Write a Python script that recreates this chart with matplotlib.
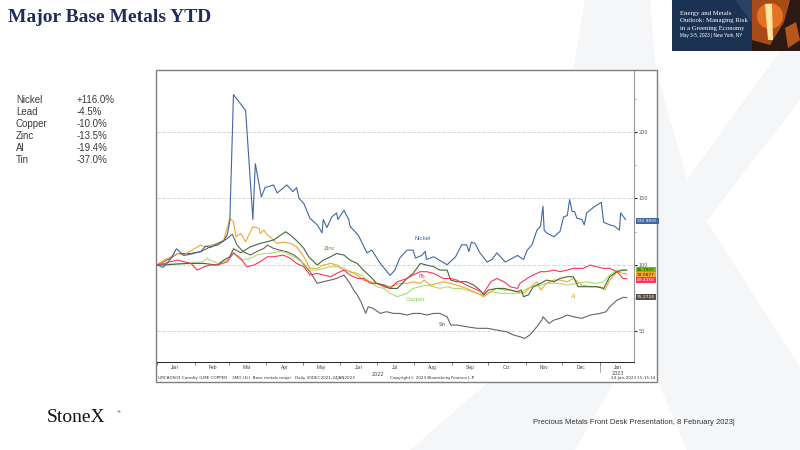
"""
Major Base Metals YTD - Bloomberg style index chart on a StoneX slide.
"""

import numpy as np
import pandas as pd
import matplotlib

matplotlib.use("Agg")
import matplotlib.pyplot as plt
from matplotlib.patches import Rectangle, Polygon, Ellipse

W, H = 800, 450

# ---- data: days since 1 Jan 2022, index level (start = 100) ----
nickel_days = [0, 5, 11, 16, 22, 28, 36, 40, 44, 50, 55, 58, 60, 63, 73, 79, 81, 86, 89, 96,
               99, 107, 112, 115, 117, 121, 126, 132, 136, 137, 140, 144, 148, 149, 154, 158,
               159, 166, 173, 177, 184, 192, 196, 200, 206, 211, 213, 218, 221, 222, 228, 239,
               246, 251, 255, 257, 259, 262, 266, 272, 276, 280, 283, 287, 291, 297, 302, 305,
               309, 313, 316, 318, 319, 321, 327, 332, 335, 338, 340, 342, 344, 346, 350, 352,
               354, 358, 361, 366, 368, 373, 377, 381, 382, 386]
nickel_vals = [100, 98, 104, 112, 107, 108, 110, 114, 113, 116, 118, 123, 133, 228, 216, 134, 176, 151, 158, 160,
               154, 160, 155, 158, 150, 146, 135, 130, 124, 134, 128, 136, 139, 134, 141, 134,
               129, 122, 109, 111, 101, 92, 96, 105, 111, 111, 105, 107, 110, 104, 106, 100,
               106, 115, 115, 110, 117, 116, 109, 102, 104, 109, 106, 102, 104, 107, 104, 111,
               115, 126, 129, 144, 126, 124, 121, 125, 136, 137, 149, 140, 140, 135, 134, 130,
               139, 142, 144, 147, 132, 130, 129, 126, 139, 134]

al_days = [0, 6, 17, 22, 36, 39, 50, 55, 60, 63, 65, 69, 73, 77, 79, 84, 85, 88, 91, 93,
           99, 104, 110, 115, 121, 126, 132, 137, 143, 148, 154, 159, 165, 170, 176, 181, 187, 192, 200, 206,
           211, 217, 220, 225, 231, 236, 242, 247, 255, 264, 269, 275, 280, 286, 291, 297, 302, 308, 313, 316,
           321, 327, 332, 338, 343, 350, 357, 365, 369, 373, 379, 384, 387]
al_vals = [100, 103.5, 108.5, 107.3, 114.8, 113.6, 116, 118.6, 134.9, 132.3, 121, 123.6, 117.3, 124.8, 128.6, 127.4, 123.6, 126, 122.3, 121,
           116, 117, 116, 113.6, 106, 97.3, 97.3, 99.8, 101, 99.8, 96, 94.8, 92.3, 88.5, 87.2, 86, 84.7, 83.5, 86, 86,
           87.2, 86, 88.5, 84.7, 86, 87.2, 86, 84.7, 82.2, 78.5, 76, 79.7, 82.2, 81, 81, 79.7, 78.5, 83.5, 87.2, 81,
           86, 88.5, 88.5, 87.2, 89.7, 84.7, 83.5, 83.5, 81, 88.5, 94.8, 93.5, 93]

zinc_days = [0, 6, 16, 27, 38, 50, 55, 60, 63, 69, 77, 85, 96, 106, 110, 116, 121, 125, 132, 137,
             143, 148, 154, 159, 165, 170, 176, 181, 187, 192, 198, 206, 211, 217, 222, 228, 233, 239, 242, 247,
             255, 261, 266, 269, 273, 280, 286, 291, 297, 300, 302, 306, 310, 316, 321, 327, 332, 338, 343, 347,
             354, 362, 368, 373, 379, 384, 387]
zinc_vals = [100, 99.8, 100.5, 101, 101, 99.8, 103.5, 106, 112, 109, 113.5, 116, 118.6, 124.8, 122.3, 117.3, 112.3, 106, 99.8, 103.5,
             106, 108.5, 107.3, 103.5, 101, 96, 91, 86, 84.7, 82.2, 82.2, 89.7, 93.5, 101, 99.8, 98.5, 96, 96, 88.5, 87.2,
             87.2, 84.7, 81, 77.3, 81, 82.2, 82.2, 81, 79.7, 81, 76, 77.3, 83.5, 86, 88.5, 87.2, 89.7, 91, 91, 83.5,
             83.5, 83.5, 82.2, 91, 94.8, 96, 96]

tin_days = [0, 11, 17, 22, 28, 36, 44, 50, 58, 62, 66, 71, 77, 82, 88, 91, 96, 101, 107, 113,
            118, 126, 132, 137, 143, 148, 154, 159, 162, 165, 168, 172, 174, 178, 184, 189, 195, 200, 206, 211,
            217, 222, 228, 233, 239, 242, 247, 255, 264, 272, 280, 288, 294, 299, 303, 307, 313, 317, 318, 323,
            327, 332, 338, 343, 350, 357, 365, 370, 373, 379, 384, 387]
tin_vals = [100, 104.8, 108.5, 108.5, 108.5, 109.8, 113.6, 114.8, 119.8, 123, 114.8, 109.8, 107.3, 109.8, 112.3, 114.8, 112.3, 111, 109.8, 107.3,
            103.5, 94.8, 86, 87.2, 88.5, 89.7, 92.3, 86, 81, 77.3, 72.2, 63.4, 68.4, 67.2, 63.4, 64.7, 63.4, 63.4, 62.2, 63.4,
            63.4, 62.2, 63.4, 63.4, 60.9, 54.7, 54.7, 53.4, 52.2, 52.2, 50.9, 49.6, 47.1, 45.9, 44.6, 47.1, 53.4, 58.4, 60.9, 55.9,
            58.4, 59.7, 62.2, 60.9, 59.7, 62.2, 63.4, 64.7, 68.4, 73.4, 75.5, 75.3]

lead_days = [0, 6, 11, 17, 22, 28, 33, 39, 44, 50, 58, 63, 69, 74, 80, 85, 91, 96, 104, 110,
             115, 121, 126, 132, 137, 143, 148, 154, 159, 165, 170, 176, 181, 187, 192, 198, 206, 211, 217, 222,
             228, 236, 242, 247, 255, 264, 269, 275, 280, 286, 291, 297, 299, 305, 310, 316, 321, 327, 332, 338,
             343, 351, 357, 362, 368, 373, 379, 384, 387]
lead_vals = [100, 101, 102.3, 103.5, 102.3, 101, 96, 98.5, 99.8, 99.8, 102.3, 109, 104.8, 98.5, 99.8, 102.3, 106, 106, 107.3, 104.8,
             101, 98.5, 92.3, 93.5, 92.3, 91, 93.5, 96, 92.3, 89.7, 89.7, 86, 86, 83.5, 82.2, 87.2, 89.7, 92.3, 94.8, 94.8,
             93.5, 89.7, 89.7, 88.5, 84.7, 81, 78.5, 87.2, 89.7, 87.2, 83.5, 82.2, 86, 89.7, 92.3, 94.8, 94.8, 96, 94.8, 96,
             97.3, 97.3, 99.8, 98.5, 97.3, 97.3, 94.8, 89.7, 89.5]

copper_days = [0, 22, 38, 41, 50, 58, 63, 69, 77, 82, 88, 93, 99, 104, 110, 115, 121, 126, 132, 137,
               143, 148, 154, 159, 165, 170, 176, 181, 187, 192, 198, 206, 211, 217, 222, 228, 233, 239, 244, 250,
               255, 264, 269, 275, 283, 291, 299, 305, 310, 316, 321, 327, 332, 338, 346, 354, 362, 368, 373, 379,
               384, 387]
copper_vals = [100, 101, 102.3, 104.8, 101, 103.5, 108.5, 103.5, 104.8, 107.3, 108.5, 108.5, 109.8, 109.8, 107.3, 104.8, 101, 96, 96, 97.3,
               98.5, 98.5, 97.3, 94.8, 93.5, 91, 87.2, 83.5, 82.2, 78.5, 76, 78.5, 82.2, 83.5, 84.7, 83.5, 82.2, 83.5, 82.2, 82.2,
               81, 78.5, 77.3, 79.7, 78.5, 78.5, 78.5, 82.2, 83.5, 84.7, 86, 86, 86, 84.7, 86, 87.2, 86, 87.2, 92.3, 96,
               96, 96]

ytd_names = ["Nickel", "Lead", "Copper", "Zinc", "Al", "Tin"]
ytd_changes = ["+116.0%", "-4.5%", "-10.0%", "-13.5%", "-19.4%", "-37.0%"]

month_names = ["Jan", "Feb", "Mar", "Apr", "May", "Jun", "Jul", "Aug", "Sep", "Oct", "Nov", "Dec", "Jan"]
y_ticks = [50, 100, 150, 200]

end_labels = ["132.9895", "95.7907", "93.0877", "89.4356", "75.2724"]

C_NICKEL = "#3f67a3"
C_ZINC = "#3e6b3a"
C_TIN = "#6e625a"
C_LEAD = "#ff3355"
C_COPPER = "#a9de6e"
C_AL = "#f5a62a"


def fx(x):
    return x / W


def fy(y):
    return 1 - y / H


def fig_poly(points, color, z=0, alpha=1.0):
    pts = [(fx(x), fy(y)) for x, y in points]
    fig.patches.append(Polygon(pts, closed=True, transform=fig.transFigure,
                               fc=color, ec="none", zorder=z, alpha=alpha))


fig = plt.figure(figsize=(8, 4.5), dpi=100)
fig.patch.set_facecolor("white")

# watermark X in the background
wm = "#f5f6f8"
fig_poly([(585, 0), (650, 0), (656, 70), (693, 200), (800, 367), (800, 450),
          (687, 450), (560, 150)], wm)
fig_poly([(780, 51), (800, 51), (800, 100), (706, 222), (575, 450), (410, 450),
          (560, 320), (688, 178)], wm)

# banner top right
fig.patches.append(Rectangle((fx(672), fy(51)), (800 - 672) / W, 51 / H,
                             transform=fig.transFigure, fc="#1c3253", ec="none", zorder=1))
fig_poly([(735, 0), (752, 0), (790, 51), (773, 51)], "#2a4265", z=1)
fig_poly([(752, 0), (800, 0), (800, 51), (752, 51)], "#2b1a14", z=1)
fig_poly([(752, 0), (790, 0), (784, 22), (770, 45), (752, 40)], "#b8501a", z=1, alpha=0.9)
fig.patches.append(Ellipse((fx(770), fy(16)), 26 / W, 26 / H,
                           transform=fig.transFigure, fc="#f07a22", ec="none", zorder=1, alpha=0.85))
fig_poly([(765, 4), (772, 4), (773, 40), (768, 40)], "#ffe6a0", z=1)
fig_poly([(785, 28), (796, 22), (800, 40), (788, 48)], "#d9661c", z=1, alpha=0.8)
banner_lines = ["Energy and Metals", "Outlook: Managing Risk", "in a Greening Economy"]
for i, line in enumerate(banner_lines):
    fig.text(fx(680), fy(13 + 7.6 * i), line, color="white", fontsize=4.9,
             family="Liberation Serif", va="center", ha="left", zorder=2)
fig.text(fx(680), fy(36), "May 3-5, 2023 | New York, NY", color="white", fontsize=3.3,
         family="Liberation Sans", va="center", ha="left", zorder=2)

# title
fig.text(fx(8), fy(17), "Major Base Metals YTD", fontsize=14, fontweight="bold",
         family="Liberation Serif", color="#1f2c5c", va="center", ha="left")

# YTD table
for i, (name, chg) in enumerate(zip(ytd_names, ytd_changes)):
    y = 100 + 12 * i
    fig.text(fx(16), fy(y), name, fontsize=7, family="Liberation Sans", color="#3a3a3a", va="center")
    fig.text(fx(77), fy(y), chg, fontsize=7, family="Liberation Sans", color="#3a3a3a", va="center")

# chart frame
fig.patches.append(Rectangle((fx(156), fy(382)), (657 - 156) / W, (382 - 70) / H,
                             transform=fig.transFigure, fc="white", ec="#7f7f7f", lw=1.0, zorder=3))

ax = fig.add_axes([fx(157), fy(361.7), (634 - 157) / W, (361.7 - 71) / H], zorder=4)
ax.set_facecolor("none")

series = [
    (tin_days, tin_vals, C_TIN),
    (copper_days, copper_vals, C_COPPER),
    (al_days, al_vals, C_AL),
    (zinc_days, zinc_vals, C_ZINC),
    (lead_days, lead_vals, C_LEAD),
    (nickel_days, nickel_vals, C_NICKEL),
]
for days, vals, col in series:
    ax.plot(days, vals, color=col, lw=0.8)

ax.set_xlim(0, 393)
ax.set_ylim(27.1, 245.7)

for side in ["top", "left"]:
    ax.spines[side].set_visible(False)
ax.spines["right"].set_color("#9a9a9a")
ax.spines["right"].set_linewidth(0.8)
ax.spines["bottom"].set_color("#222222")
ax.spines["bottom"].set_linewidth(0.7)

ax.yaxis.tick_right()
ax.set_yticks(y_ticks)
ax.set_yticks([75, 125, 175, 225], minor=True)
ax.set_yticklabels([str(v) for v in y_ticks])
ax.tick_params(axis="y", which="major", length=2, width=0.8, pad=1, labelsize=3.5,
               labelcolor="#555555", color="#222222")
ax.tick_params(axis="y", which="minor", length=1.2, width=0.5, color="#888888")
ax.grid(axis="y", which="major", ls=(0, (4, 2)), color="#d0d0d0", lw=0.6)

# month ticks and labels
base = pd.Timestamp("2022-01-01")
month_starts = pd.date_range("2022-01-01", "2023-01-01", freq="MS")
start_days = [(d - base).days for d in month_starts]
ax.set_xticks(start_days)
ax.set_xticklabels([])
ax.tick_params(axis="x", which="major", length=2, width=0.5, color="#444444", direction="out")
xt = ax.get_xaxis_transform()
for sd, name in zip(start_days, month_names):
    ax.text(sd + 15, -0.012, name, transform=xt, ha="center", va="top",
            fontsize=3.5, color="#444444", family="Liberation Sans")
ax.text(182, -0.036, "2022", transform=xt, ha="center", va="top", fontsize=3.5, color="#444444")
ax.text(start_days[-1] + 15, -0.032, "2023", transform=xt, ha="center", va="top",
        fontsize=3.5, color="#444444")
ax.plot([start_days[-1], start_days[-1]], [-0.008, -0.036], transform=xt, clip_on=False,
        color="#888888", lw=0.5)

# series names inside the chart
inner = [("Nickel", 423, 239, C_NICKEL), ("Zinc", 330, 249, "#6e7a3a"), ("Pb", 422, 277, C_LEAD),
         ("Copper", 416, 300, "#8cc850"), ("Al", 574, 296, C_AL), ("Sn", 442, 324, "#555555")]
for txt, x, y, col in inner:
    fig.text(fx(x), fy(y), txt, fontsize=4, color=col, ha="center", va="center", zorder=6)

# last value tags
tag_y = [221, 270.3, 275, 279.7, 297.3]
tag_fc = [C_NICKEL, "#77c20c", C_AL, C_LEAD, "#5a4d45"]
tag_tc = ["white", "#1a3300", "#3a2200", "white", "white"]
for txt, y, fc, tc in zip(end_labels, tag_y, tag_fc, tag_tc):
    fig.text(fx(637), fy(y), txt, fontsize=3.2, color=tc, ha="left", va="center", zorder=6,
             bbox=dict(boxstyle="square,pad=0.2", fc=fc, ec="none"))

# footer inside frame
foot = "#333333"
fig.text(fx(158), fy(377.5), "LMCADS03 Comdty (LME COPPER    3MO ($))  Base metals major   Daily 20DEC2021-24JAN2023",
         fontsize=3, color=foot, ha="left", va="center", zorder=6)
fig.text(fx(432), fy(377.5), "Copyright\u00a9 2023 Bloomberg Finance L.P.", fontsize=3, color=foot,
         ha="center", va="center", zorder=6)
fig.text(fx(655), fy(377.5), "24-Jan-2023 15:15:14", fontsize=3, color=foot,
         ha="right", va="center", zorder=6)

# slide footer
fig.text(fx(47), fy(418), "StoneX", fontsize=14, family="Liberation Serif", color="#111111",
         ha="left", va="center")
fig.text(fx(116), fy(412), "\u00ae", fontsize=3, color="#111111", ha="left", va="center")
fig.text(fx(735), fy(423), "Precious Metals Front Desk Presentation, 8 February 2023|",
         fontsize=5.5, family=["Liberation Sans Narrow", "Liberation Sans"], color="#333333",
         ha="right", va="center")

fig.savefig("out.png", dpi=100)
